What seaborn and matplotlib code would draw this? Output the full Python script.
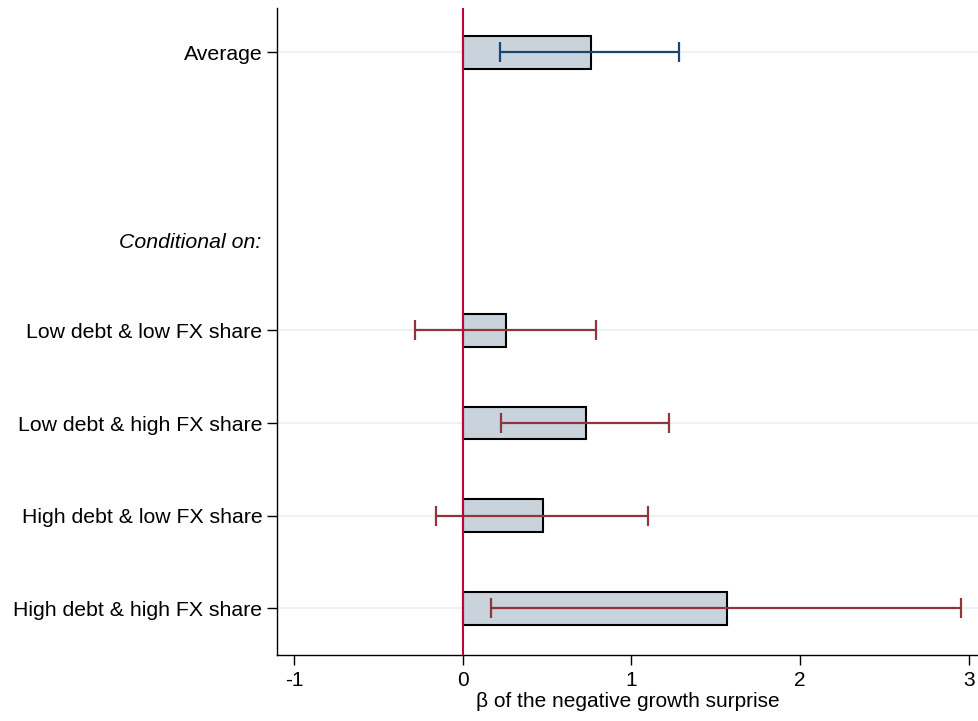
import matplotlib
matplotlib.use("Agg")
import matplotlib.pyplot as plt
import pandas as pd
import seaborn as sns

# rows of the chart, top to bottom ("" and "Conditional on:" are spacer rows)
rows = ["Average", "", "Conditional on:",
        "Low debt & low FX share", "Low debt & high FX share",
        "High debt & low FX share", "High debt & high FX share"]
groups = ["Average",
          "Low debt & low FX share", "Low debt & high FX share",
          "High debt & low FX share", "High debt & high FX share"]
beta = [0.76, 0.255, 0.73, 0.475, 1.565]
ci_low = [0.22, -0.28, 0.23, -0.16, 0.17]
ci_high = [1.28, 0.79, 1.22, 1.10, 2.955]
ci_colors = ["#1a476f", "#90353b", "#90353b", "#90353b", "#90353b"]

df = pd.DataFrame({"group": groups, "beta": beta, "lo": ci_low, "hi": ci_high})

sns.set_style("white")
plt.rcParams["font.family"] = ["Liberation Sans", "DejaVu Sans"]
plt.rcParams["text.color"] = "black"
plt.rcParams["xtick.color"] = "black"
plt.rcParams["ytick.color"] = "black"
plt.rcParams["axes.labelcolor"] = "black"

fig = plt.figure(figsize=(9.79, 7.21), dpi=100)
ax = fig.add_axes([0.283, 0.092, 0.717, 0.897])

sns.barplot(data=df, x="beta", y="group", order=rows, orient="h",
            color="#c9d3dc", saturation=1, edgecolor="black", linewidth=1.5,
            width=0.355, errorbar=None, ax=ax, zorder=2)

pos = [rows.index(g) for g in groups]
for p, b, lo, hi, c in zip(pos, beta, ci_low, ci_high, ci_colors):
    ax.errorbar(b, p, xerr=[[b - lo], [hi - b]], fmt="none", ecolor=c,
                elinewidth=1.6, capsize=7, capthick=1.6, zorder=3)

# light horizontal grid at each group
for p in pos:
    ax.axhline(p, color="#eaf2f3", lw=1.5, zorder=0)
ax.axvline(0, color="#c10534", lw=1.5, zorder=4)

ax.set_xlim(-1.10, 3.06)
ax.set_ylim(6.5, -0.48)
ax.set_xticks([-1, 0, 1, 2, 3])
ax.set_xticklabels(["-1", "0", "1", "2", "3"])
ax.set_yticks(pos)
ax.set_yticklabels(groups)
ax.text(-0.022, 2.05, "Conditional on:", transform=ax.get_yaxis_transform(),
        ha="right", va="center", fontsize=15.3, style="italic")

ax.set_xlabel("β of the negative growth surprise", fontsize=15, labelpad=1)
ax.set_ylabel("")
ax.tick_params(axis="y", labelsize=15.3)
ax.tick_params(axis="x", labelsize=15, pad=5)
ax.tick_params(axis="both", length=7, width=1, direction="out", color="black")
ax.tick_params(left=True, bottom=True)
sns.despine(ax=ax)
for s in ["left", "bottom"]:
    ax.spines[s].set_color("black")
    ax.spines[s].set_linewidth(1)

fig.savefig("out.png", dpi=100)
